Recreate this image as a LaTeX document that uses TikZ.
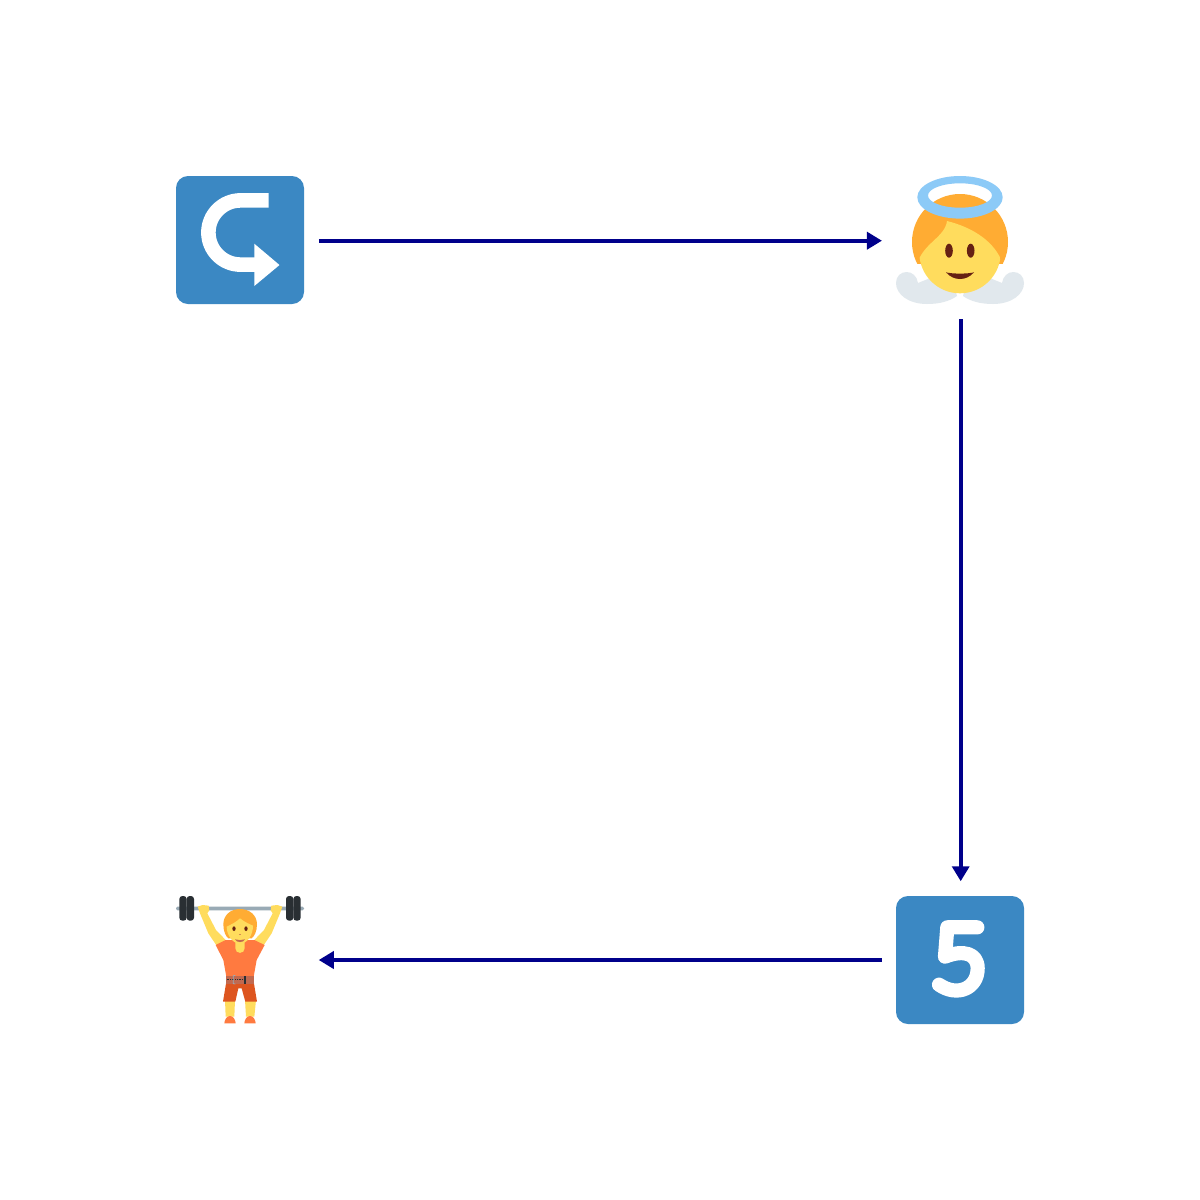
\documentclass[tikz,border=0pt]{standalone}
\usetikzlibrary{arrows.meta}
\definecolor{tblue}{HTML}{3B88C3}
\definecolor{hair}{HTML}{FFAC33}
\definecolor{skin}{HTML}{FFDC5D}
\definecolor{halo}{HTML}{8CCAF7}
\definecolor{wing}{HTML}{E1E8ED}
\definecolor{dk}{HTML}{662113}
\definecolor{conn}{HTML}{00008B}
\definecolor{shirt}{HTML}{FF7A40}
\definecolor{shorts}{HTML}{DD551F}
\definecolor{belt}{HTML}{C1694F}
\definecolor{iron}{HTML}{292F33}
\definecolor{bar}{HTML}{99AAB5}
\tikzset{
  spot/.style={minimum size=157.5pt,inner sep=0pt,outer sep=0pt},
  link/.style={conn,line width=3.6pt,-{Triangle[length=15pt,width=17pt]}},
  tile/.style={fill=tblue,rounded corners=12pt},
}
\begin{document}
\begin{tikzpicture}[x=1pt,y=-1pt]
\useasboundingbox (0,0) rectangle (1200,1200);
\fill[white] (0,0) rectangle (1200,1200);
\node[spot] (turn) at (240,240.7) {};
\node[spot] (angel) at (960.7,240.7) {};
\node[spot] (five) at (960.7,960) {};
\node[spot] (lifter) at (240,960) {};
% tile with arrow
\fill[tile] (176,176) rectangle (304,304);
\draw[white,line width=14.6pt] (268.5,200.4) -- (240.5,200.4) .. controls (222.8,200.4) and (208.4,214.8) .. (208.4,232.5) .. controls (208.4,250.2) and (222.8,264.6) .. (240.5,264.6) -- (256,264.6);
\fill[white] (254.3,243.7) -- (279.5,265) -- (254.3,286) -- cycle;
% angel
\fill[wing] (896,283) .. controls (896,276) and (901,272) .. (906.7,272) .. controls (912,272) and (917,276) .. (918,283) -- (950,270) -- (957,296) .. controls (950,301) and (940,304) .. (927,304) .. controls (908,304) and (896,294) .. (896,283) -- cycle;
\fill[wing] (1024,283) .. controls (1024,276) and (1019,272) .. (1013.3,272) .. controls (1008,272) and (1003,276) .. (1002,283) -- (970,270) -- (963,296) .. controls (970,301) and (980,304) .. (993,304) .. controls (1012,304) and (1024,294) .. (1024,283) -- cycle;
\begin{scope}
\clip (900,190) rectangle (1020,263);
\fill[hair] (960,242) circle[radius=48];
\end{scope}
\begin{scope}
\clip (960,252.6) circle[radius=40.7];
\fill[skin] (947,221) .. controls (975,228) and (995,243) .. (1002,262) -- (1010,300) -- (910,300) -- (918,262) .. controls (924,243) and (945,237) .. (947,221) -- cycle;
\end{scope}
\fill[dk] (949,250.7) ellipse[x radius=3.8,y radius=7];
\fill[dk] (970.7,250.7) ellipse[x radius=3.8,y radius=7];
\fill[dk] (946,272.3) .. controls (952,274) and (968,274) .. (974,272.3) .. controls (970,277) and (965,279) .. (960,279) .. controls (955,279) and (950,277) .. (946,272.3) -- cycle;
\fill[halo,even odd rule] (960,197.3) ellipse[x radius=42.7,y radius=21.3] (960,195.5) ellipse[x radius=32,y radius=12.2];
% five
\fill[tile] (896,896) rectangle (1024,1024);
\begin{scope}[shift={(870,860)},scale=1/3]
\draw[white,line width=14.2pt,line cap=round,line join=round] (322,202) -- (232,202) -- (225,290) .. controls (280,268) and (323,280) .. (323,325) .. controls (323,385) and (262,412) .. (207,374);
\end{scope}
% lifter
\begin{scope}[shift={(160,885)},scale=1/3]
\fill[bar,rounded corners=1.5pt] (48,65) rectangle (432,76);
\foreach \a in {58,80,378,400}{\fill[iron,rounded corners=3pt] (\a,33) rectangle ++(22,74);}
\fill[skin] (113,65) -- (128,60) -- (146,62) -- (148,76) -- (142,85) -- (168,135) -- (197,165) -- (172,185) -- (145,145) -- (120,85) -- cycle;
\fill[skin] (367,65) -- (352,60) -- (334,62) -- (332,76) -- (338,85) -- (312,135) -- (283,165) -- (308,185) -- (335,145) -- (360,85) -- cycle;
\fill[skin] (195,345) -- (225,345) -- (223,395) -- (197,395) -- cycle;
\fill[skin] (255,345) -- (288,345) -- (283,395) -- (258,395) -- cycle;
\fill[shirt] (193,415) .. controls (194,403) and (200,393) .. (210,393) .. controls (220,393) and (226,403) .. (227,415) -- cycle;
\fill[shirt] (253,415) .. controls (254,403) and (260,393) .. (270,393) .. controls (280,393) and (286,403) .. (287,415) -- cycle;
\fill[shorts] (199,290) -- (281,290) -- (291,350) -- (256,350) -- (245,310) -- (235,310) -- (226,350) -- (189,350) -- cycle;
\fill[shirt] (167,180) -- (197,165) -- (283,165) -- (314,180) -- (290,225) -- (281,275) -- (199,275) -- (190,225) -- cycle;
\fill[belt] (199,272) rectangle (281,296);
\draw[iron,densely dotted,line width=.7pt] (200,284) -- (252,284);
\fill[iron] (251,272) rectangle (257,296);
\draw[bar,line width=.7pt] (226,271) -- (220,272) -- (220,296) -- (226,297);
\fill[skin] (226,160) -- (254,160) -- (254,190) .. controls (254,208) and (226,208) .. (226,190) -- cycle;
\fill[hair] (240,72) .. controls (268,72) and (291,90) .. (291,118) .. controls (291,140) and (282,155) .. (275,160) -- (205,160) .. controls (198,155) and (190,140) .. (190,118) .. controls (190,90) and (212,72) .. (240,72) -- cycle;
\fill[skin] (200,125) .. controls (215,118) and (230,110) .. (240,100) .. controls (255,112) and (270,118) .. (279,122) .. controls (279,150) and (262,176) .. (240,176) .. controls (218,176) and (200,150) .. (200,125) -- cycle;
\fill[dk] (222,131) ellipse[x radius=5,y radius=7];
\fill[dk] (258,131) ellipse[x radius=5,y radius=7];
\fill[belt] (225,163) .. controls (235,166) and (245,166) .. (255,163) .. controls (250,174) and (230,174) .. (225,163) -- cycle;
\fill[belt!70!skin] (236,146) rectangle (244,151);
\end{scope}
% connectors
\draw[link] (turn) -- (angel);
\draw[link] (angel) -- (five);
\draw[link] (five) -- (lifter);
\end{tikzpicture}
\end{document}
